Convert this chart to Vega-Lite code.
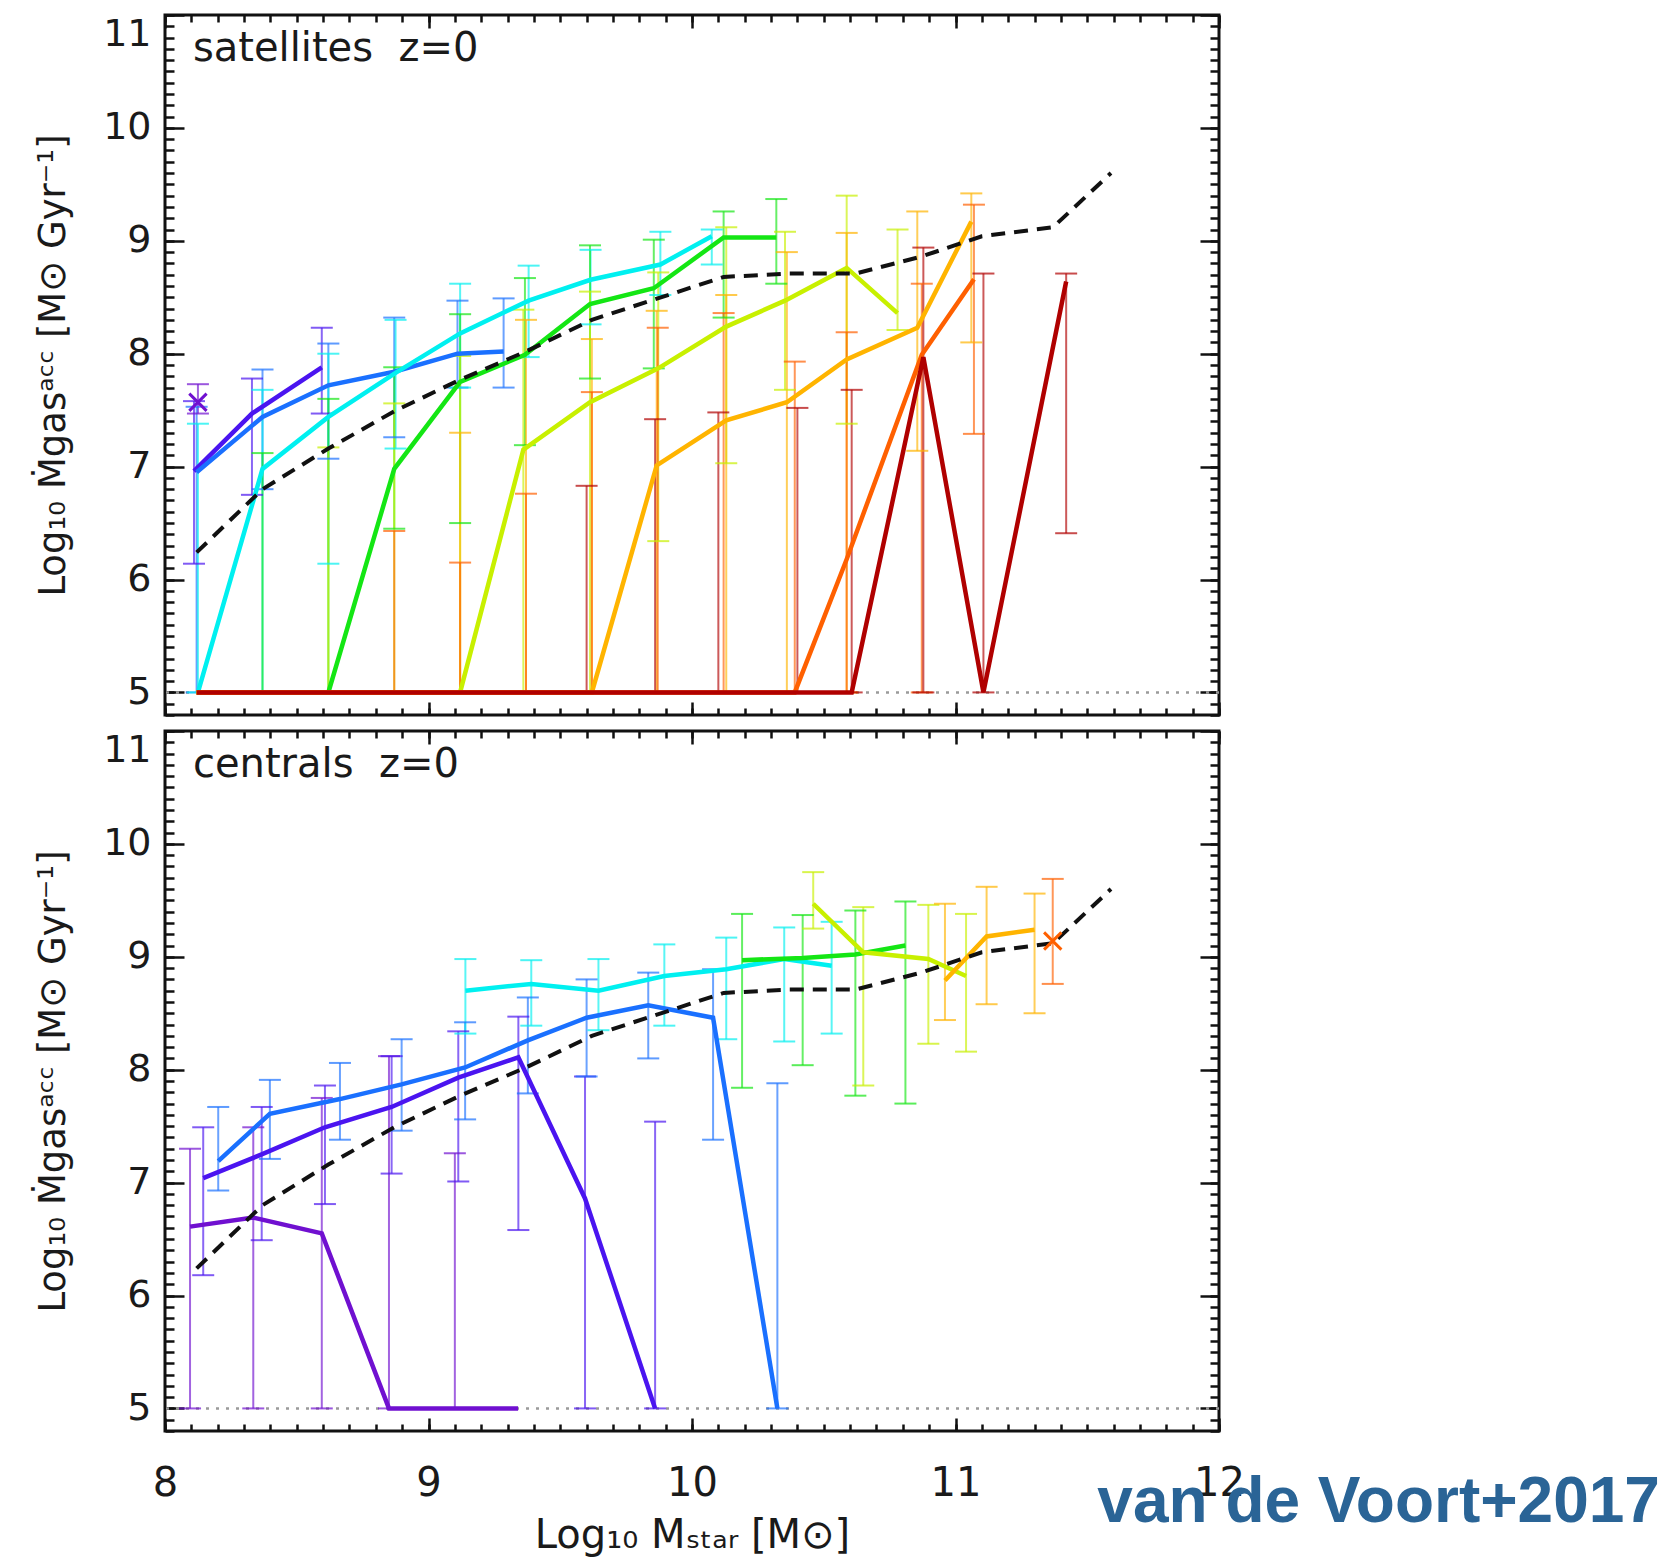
{
  "$schema": "https://vega.github.io/schema/vega-lite/v6.json",
  "background": "white",
  "padding": {"left": 33, "top": 12, "right": 5, "bottom": 5},
  "config": {
    "font": "DejaVu Sans",
    "view": {"stroke": "#111111", "strokeWidth": 3},
    "axis": {"domain": false, "grid": false, "labelFont": "DejaVu Sans", "titleFont": "DejaVu Sans"}
  },
  "title": {"text": "van de Voort+2017", "orient": "bottom", "anchor": "end", "frame": "bounds", "fontSize": 64, "fontWeight": "bold", "font": "Liberation Sans", "color": "#2a6496", "dx": 414, "dy": -86, "offset": 0},
  "spacing": 10,
  "datasets": {
    "one": [{"k": 1}],
    "dash": [
      {"x": 8.12, "y": 6.24}, {"x": 8.37, "y": 6.8}, {"x": 8.62, "y": 7.16}, {"x": 8.87, "y": 7.49},
      {"x": 9.12, "y": 7.77}, {"x": 9.37, "y": 8.02}, {"x": 9.62, "y": 8.3}, {"x": 9.87, "y": 8.49},
      {"x": 10.12, "y": 8.68}, {"x": 10.37, "y": 8.71}, {"x": 10.62, "y": 8.71}, {"x": 10.87, "y": 8.86},
      {"x": 11.1, "y": 9.04}, {"x": 11.37, "y": 9.12}, {"x": 11.59, "y": 9.6}
    ],
    "sat": [
      {"s": "s0", "x": 8.125, "y": 7.57, "lo": 7.47, "hi": 7.73, "m": "x"},
      {"s": "s1", "x": 8.11, "y": 6.96, "lo": 6.14, "hi": 7.58},
      {"s": "s1", "x": 8.33, "y": 7.47, "lo": 6.75, "hi": 7.78},
      {"s": "s1", "x": 8.595, "y": 7.88, "lo": 7.47, "hi": 8.23},
      {"s": "s2", "x": 8.12, "y": 6.95, "lo": 5.0, "hi": 7.53},
      {"s": "s2", "x": 8.37, "y": 7.44, "lo": 6.8, "hi": 7.86},
      {"s": "s2", "x": 8.62, "y": 7.72, "lo": 7.07, "hi": 8.09},
      {"s": "s2", "x": 8.87, "y": 7.84, "lo": 7.26, "hi": 8.32},
      {"s": "s2", "x": 9.11, "y": 8.0, "lo": 7.7, "hi": 8.47},
      {"s": "s2", "x": 9.285, "y": 8.02, "lo": 7.7, "hi": 8.49},
      {"s": "s3", "x": 8.125, "y": 5.0, "lo": 5.0, "hi": 7.38},
      {"s": "s3", "x": 8.37, "y": 6.98, "lo": 5.0, "hi": 7.68},
      {"s": "s3", "x": 8.62, "y": 7.44, "lo": 6.14, "hi": 8.0},
      {"s": "s3", "x": 8.875, "y": 7.83, "lo": 7.16, "hi": 8.3},
      {"s": "s3", "x": 9.12, "y": 8.18, "lo": 7.7, "hi": 8.62},
      {"s": "s3", "x": 9.38, "y": 8.47, "lo": 7.97, "hi": 8.78},
      {"s": "s3", "x": 9.615, "y": 8.655, "lo": 8.26, "hi": 8.92},
      {"s": "s3", "x": 9.88, "y": 8.79, "lo": 8.52, "hi": 9.08},
      {"s": "s3", "x": 10.075, "y": 9.04, "lo": 8.79, "hi": 9.1},
      {"s": "s4", "x": 8.12, "y": 5.0},
      {"s": "s4", "x": 8.37, "y": 5.0, "lo": 5.0, "hi": 7.12},
      {"s": "s4", "x": 8.62, "y": 5.0, "lo": 5.0, "hi": 7.6},
      {"s": "s4", "x": 8.87, "y": 6.98, "lo": 6.45, "hi": 7.88},
      {"s": "s4", "x": 9.12, "y": 7.75, "lo": 6.5, "hi": 8.35},
      {"s": "s4", "x": 9.366, "y": 7.99, "lo": 7.19, "hi": 8.67},
      {"s": "s4", "x": 9.613, "y": 8.44, "lo": 7.78, "hi": 8.96},
      {"s": "s4", "x": 9.855, "y": 8.58, "lo": 7.87, "hi": 9.01},
      {"s": "s4", "x": 10.12, "y": 9.03, "lo": 8.32, "hi": 9.26},
      {"s": "s4", "x": 10.32, "y": 9.03, "lo": 8.62, "hi": 9.37},
      {"s": "s5", "x": 8.12, "y": 5.0},
      {"s": "s5", "x": 8.37, "y": 5.0},
      {"s": "s5", "x": 8.62, "y": 5.0, "lo": 5.0, "hi": 7.17},
      {"s": "s5", "x": 8.87, "y": 5.0, "lo": 5.0, "hi": 7.56},
      {"s": "s5", "x": 9.12, "y": 5.0, "lo": 5.0, "hi": 7.98},
      {"s": "s5", "x": 9.36, "y": 7.15, "lo": 5.0, "hi": 8.39},
      {"s": "s5", "x": 9.613, "y": 7.57, "lo": 5.0, "hi": 8.55},
      {"s": "s5", "x": 9.872, "y": 7.87, "lo": 6.34, "hi": 8.72},
      {"s": "s5", "x": 10.13, "y": 8.24, "lo": 7.03, "hi": 9.12},
      {"s": "s5", "x": 10.353, "y": 8.47, "lo": 7.68, "hi": 9.08},
      {"s": "s5", "x": 10.587, "y": 8.76, "lo": 7.38, "hi": 9.4},
      {"s": "s5", "x": 10.78, "y": 8.36, "lo": 8.21, "hi": 9.1},
      {"s": "s6", "x": 8.12, "y": 5.0},
      {"s": "s6", "x": 8.37, "y": 5.0},
      {"s": "s6", "x": 8.62, "y": 5.0},
      {"s": "s6", "x": 8.87, "y": 5.0},
      {"s": "s6", "x": 9.12, "y": 5.0, "lo": 5.0, "hi": 7.3},
      {"s": "s6", "x": 9.37, "y": 5.0, "lo": 5.0, "hi": 8.3},
      {"s": "s6", "x": 9.62, "y": 5.0, "lo": 5.0, "hi": 8.13},
      {"s": "s6", "x": 9.866, "y": 7.01, "lo": 5.0, "hi": 8.38},
      {"s": "s6", "x": 10.13, "y": 7.41, "lo": 5.0, "hi": 8.52},
      {"s": "s6", "x": 10.36, "y": 7.57, "lo": 5.0, "hi": 8.9},
      {"s": "s6", "x": 10.587, "y": 7.95, "lo": 5.0, "hi": 9.07},
      {"s": "s6", "x": 10.855, "y": 8.23, "lo": 7.14, "hi": 9.26},
      {"s": "s6", "x": 11.06, "y": 9.17, "lo": 8.1, "hi": 9.42},
      {"s": "s7", "x": 8.12, "y": 5.0},
      {"s": "s7", "x": 8.37, "y": 5.0},
      {"s": "s7", "x": 8.62, "y": 5.0},
      {"s": "s7", "x": 8.87, "y": 5.0, "lo": 5.0, "hi": 6.43},
      {"s": "s7", "x": 9.12, "y": 5.0, "lo": 5.0, "hi": 6.15},
      {"s": "s7", "x": 9.37, "y": 5.0, "lo": 5.0, "hi": 6.76},
      {"s": "s7", "x": 9.62, "y": 5.0, "lo": 5.0, "hi": 7.66},
      {"s": "s7", "x": 9.87, "y": 5.0, "lo": 5.0, "hi": 8.23},
      {"s": "s7", "x": 10.12, "y": 5.0, "lo": 5.0, "hi": 8.36},
      {"s": "s7", "x": 10.39, "y": 5.0, "lo": 5.0, "hi": 7.93},
      {"s": "s7", "x": 10.587, "y": 6.18, "lo": 5.0, "hi": 8.19},
      {"s": "s7", "x": 10.872, "y": 7.99, "lo": 5.0, "hi": 8.62},
      {"s": "s7", "x": 11.07, "y": 8.66, "lo": 7.29, "hi": 9.32},
      {"s": "s8", "x": 8.12, "y": 5.0},
      {"s": "s8", "x": 8.37, "y": 5.0},
      {"s": "s8", "x": 8.62, "y": 5.0},
      {"s": "s8", "x": 8.87, "y": 5.0},
      {"s": "s8", "x": 9.12, "y": 5.0},
      {"s": "s8", "x": 9.37, "y": 5.0},
      {"s": "s8", "x": 9.6, "y": 5.0, "lo": 5.0, "hi": 6.83},
      {"s": "s8", "x": 9.86, "y": 5.0, "lo": 5.0, "hi": 7.42},
      {"s": "s8", "x": 10.1, "y": 5.0, "lo": 5.0, "hi": 7.48},
      {"s": "s8", "x": 10.4, "y": 5.0, "lo": 5.0, "hi": 7.52},
      {"s": "s8", "x": 10.606, "y": 5.0, "lo": 5.0, "hi": 7.68},
      {"s": "s8", "x": 10.878, "y": 7.97, "lo": 5.0, "hi": 8.94},
      {"s": "s8", "x": 11.106, "y": 5.0, "lo": 5.0, "hi": 8.71},
      {"s": "s8", "x": 11.42, "y": 8.64, "lo": 6.41, "hi": 8.71}
    ],
    "cen": [
      {"s": "s0", "x": 8.095, "y": 6.61, "lo": 5.0, "hi": 7.3},
      {"s": "s0", "x": 8.335, "y": 6.69, "lo": 5.0, "hi": 7.49},
      {"s": "s0", "x": 8.595, "y": 6.55, "lo": 5.0, "hi": 7.75},
      {"s": "s0", "x": 8.85, "y": 5.0, "lo": 5.0, "hi": 8.12},
      {"s": "s0", "x": 9.1, "y": 5.0, "lo": 5.0, "hi": 7.26},
      {"s": "s0", "x": 9.34, "y": 5.0},
      {"s": "s1", "x": 8.145, "y": 7.04, "lo": 6.18, "hi": 7.49},
      {"s": "s1", "x": 8.367, "y": 7.25, "lo": 6.49, "hi": 7.67},
      {"s": "s1", "x": 8.607, "y": 7.49, "lo": 6.81, "hi": 7.86},
      {"s": "s1", "x": 8.86, "y": 7.67, "lo": 7.08, "hi": 8.12},
      {"s": "s1", "x": 9.113, "y": 7.93, "lo": 7.01, "hi": 8.34},
      {"s": "s1", "x": 9.341, "y": 8.11, "lo": 6.58, "hi": 8.47},
      {"s": "s1", "x": 9.594, "y": 6.86, "lo": 5.0, "hi": 7.94},
      {"s": "s1", "x": 9.86, "y": 5.0, "lo": 5.0, "hi": 7.54},
      {"s": "s2", "x": 8.202, "y": 7.19, "lo": 6.93, "hi": 7.67},
      {"s": "s2", "x": 8.398, "y": 7.61, "lo": 7.21, "hi": 7.91},
      {"s": "s2", "x": 8.664, "y": 7.74, "lo": 7.38, "hi": 8.06},
      {"s": "s2", "x": 8.898, "y": 7.87, "lo": 7.46, "hi": 8.27},
      {"s": "s2", "x": 9.139, "y": 8.02, "lo": 7.56, "hi": 8.42},
      {"s": "s2", "x": 9.377, "y": 8.26, "lo": 7.79, "hi": 8.64},
      {"s": "s2", "x": 9.6, "y": 8.46, "lo": 7.94, "hi": 8.8},
      {"s": "s2", "x": 9.834, "y": 8.57, "lo": 8.1, "hi": 8.86},
      {"s": "s2", "x": 10.08, "y": 8.46, "lo": 7.38, "hi": 8.89},
      {"s": "s2", "x": 10.324, "y": 5.0, "lo": 5.0, "hi": 7.88},
      {"s": "s3", "x": 9.14, "y": 8.7, "lo": 8.32, "hi": 8.98},
      {"s": "s3", "x": 9.39, "y": 8.76, "lo": 8.39, "hi": 8.97},
      {"s": "s3", "x": 9.645, "y": 8.7, "lo": 8.35, "hi": 8.98},
      {"s": "s3", "x": 9.895, "y": 8.83, "lo": 8.39, "hi": 9.11},
      {"s": "s3", "x": 10.13, "y": 8.89, "lo": 8.27, "hi": 9.17},
      {"s": "s3", "x": 10.35, "y": 8.98, "lo": 8.25, "hi": 9.26},
      {"s": "s3", "x": 10.53, "y": 8.92, "lo": 8.32, "hi": 9.31},
      {"s": "s4", "x": 10.19, "y": 8.97, "lo": 7.84, "hi": 9.38},
      {"s": "s4", "x": 10.42, "y": 8.99, "lo": 8.04, "hi": 9.37},
      {"s": "s4", "x": 10.62, "y": 9.02, "lo": 7.77, "hi": 9.41},
      {"s": "s4", "x": 10.81, "y": 9.1, "lo": 7.7, "hi": 9.49},
      {"s": "s5", "x": 10.46, "y": 9.47, "lo": 9.25, "hi": 9.75},
      {"s": "s5", "x": 10.65, "y": 9.04, "lo": 7.86, "hi": 9.44},
      {"s": "s5", "x": 10.897, "y": 8.98, "lo": 8.23, "hi": 9.46},
      {"s": "s5", "x": 11.04, "y": 8.83, "lo": 8.16, "hi": 9.38},
      {"s": "s6", "x": 10.96, "y": 8.79, "lo": 8.44, "hi": 9.47},
      {"s": "s6", "x": 11.118, "y": 9.18, "lo": 8.58, "hi": 9.62},
      {"s": "s6", "x": 11.3, "y": 9.24, "lo": 8.5, "hi": 9.56},
      {"s": "s7", "x": 11.369, "y": 9.14, "lo": 8.76, "hi": 9.69, "m": "x"}
    ]
  },
  "vconcat": [
    {
      "width": 1054,
      "height": 700,
      "resolve": {"axis": {"x": "independent", "y": "independent"}},
      "layer": [
        {
          "data": {"name": "one"},
          "mark": {"type": "rule", "color": "#9a9a9a", "strokeWidth": 2.5, "strokeDash": [3, 7]},
          "encoding": {"y": {"datum": 5, "type": "quantitative", "scale": {"domain": [4.8, 11], "nice": false, "zero": false}, "axis": null}}
        },
        {
          "data": {"name": "sat"},
          "transform": [{"filter": "datum.lo != null"}],
          "mark": {"type": "rule", "strokeWidth": 2, "opacity": 0.65},
          "encoding": {
            "x": {"field": "x", "type": "quantitative", "scale": {"domain": [8, 12], "nice": false, "zero": false}, "axis": {"orient": "bottom", "values": [8, 9, 10, 11, 12], "labels": false, "ticks": true, "tickSize": -13, "tickWidth": 2.5, "tickColor": "#111111", "title": null}},
            "y": {"field": "lo", "type": "quantitative", "scale": {"domain": [4.8, 11], "nice": false, "zero": false}, "axis": {"orient": "left", "values": [5, 6, 7, 8, 9, 10, 11], "labels": false, "ticks": true, "tickSize": -19, "tickWidth": 2.5, "tickColor": "#111111", "title": null}},
            "y2": {"field": "hi"},
            "color": {"field": "s", "type": "nominal", "scale": {"domain": ["s0", "s1", "s2", "s3", "s4", "s5", "s6", "s7", "s8"], "range": ["#7010d0", "#4a14f0", "#1a70ff", "#00f0f0", "#14e614", "#c8f000", "#ffb400", "#ff6000", "#b00000"]}, "legend": null}
          }
        },
        {
          "data": {"name": "sat"},
          "transform": [{"filter": "datum.lo != null"}],
          "mark": {"type": "tick", "orient": "horizontal", "size": 22, "thickness": 2, "opacity": 0.7},
          "encoding": {
            "x": {"field": "x", "type": "quantitative", "scale": {"domain": [8, 12], "nice": false, "zero": false}, "axis": {"orient": "bottom", "tickCount": 40, "labels": false, "ticks": true, "tickSize": -7, "tickWidth": 2.5, "tickColor": "#111111", "title": null}},
            "y": {"field": "hi", "type": "quantitative", "scale": {"domain": [4.8, 11], "nice": false, "zero": false}, "axis": {"orient": "left", "tickCount": 62, "labels": false, "ticks": true, "tickSize": -9, "tickWidth": 2.5, "tickColor": "#111111", "title": null}},
            "color": {"field": "s", "type": "nominal", "legend": null}
          }
        },
        {
          "data": {"name": "sat"},
          "transform": [{"filter": "datum.lo != null"}],
          "mark": {"type": "tick", "orient": "horizontal", "size": 22, "thickness": 2, "opacity": 0.7},
          "encoding": {
            "x": {"field": "x", "type": "quantitative", "scale": {"domain": [8, 12], "nice": false, "zero": false}, "axis": {"orient": "top", "values": [8, 9, 10, 11, 12], "labels": false, "ticks": true, "tickSize": -13, "tickWidth": 2.5, "tickColor": "#111111", "title": null}},
            "y": {"field": "lo", "type": "quantitative", "scale": {"domain": [4.8, 11], "nice": false, "zero": false}, "axis": {"orient": "right", "values": [5, 6, 7, 8, 9, 10, 11], "labels": false, "ticks": true, "tickSize": -19, "tickWidth": 2.5, "tickColor": "#111111", "title": null}},
            "color": {"field": "s", "type": "nominal", "legend": null}
          }
        },
        {
          "data": {"name": "sat"},
          "mark": {"type": "line", "strokeWidth": 4.5},
          "encoding": {
            "x": {"field": "x", "type": "quantitative", "scale": {"domain": [8, 12], "nice": false, "zero": false}, "axis": {"orient": "top", "tickCount": 40, "labels": false, "ticks": true, "tickSize": -7, "tickWidth": 2.5, "tickColor": "#111111", "title": null}},
            "y": {"field": "y", "type": "quantitative", "scale": {"domain": [4.8, 11], "nice": false, "zero": false}, "axis": {"orient": "right", "tickCount": 62, "labels": false, "ticks": true, "tickSize": -9, "tickWidth": 2.5, "tickColor": "#111111", "title": null}},
            "color": {"field": "s", "type": "nominal", "legend": null}
          }
        },
        {
          "data": {"name": "dash"},
          "mark": {"type": "line", "color": "#111111", "strokeWidth": 4, "strokeDash": [14, 9]},
          "encoding": {
            "x": {"field": "x", "type": "quantitative", "scale": {"domain": [8, 12], "nice": false, "zero": false}, "axis": null},
            "y": {"field": "y", "type": "quantitative", "scale": {"domain": [4.8, 11], "nice": false, "zero": false}, "axis": {"orient": "left", "values": [5, 6, 7, 8, 9, 10, 11], "ticks": false, "labels": true, "labelFontSize": 38, "labelColor": "#1a1a1a", "labelPadding": 14, "labelFlush": true, "labelFlushOffset": 0, "labelOverlap": false, "labelBound": false, "title": "Log₁₀ Ṁgasᵃᶜᶜ [M⊙ Gyr⁻¹]", "titleFontSize": 37, "titleFontWeight": "normal", "titleColor": "#1a1a1a", "titlePadding": 30}}
          }
        },
        {
          "data": {"name": "sat"},
          "transform": [{"filter": "datum.m == 'x'"}],
          "mark": {"type": "point", "shape": "M-1,-1L1,1M-1,1L1,-1", "filled": false, "strokeWidth": 3, "size": 300, "opacity": 1},
          "encoding": {
            "x": {"field": "x", "type": "quantitative", "scale": {"domain": [8, 12], "nice": false, "zero": false}, "axis": null},
            "y": {"field": "y", "type": "quantitative", "scale": {"domain": [4.8, 11], "nice": false, "zero": false}, "axis": null},
            "color": {"field": "s", "type": "nominal", "legend": null}
          }
        },
        {
          "data": {"name": "one"},
          "mark": {"type": "text", "align": "left", "baseline": "alphabetic", "fontSize": 40, "font": "DejaVu Sans", "color": "#1a1a1a"},
          "encoding": {
            "x": {"datum": 8.106, "type": "quantitative", "scale": {"domain": [8, 12], "nice": false, "zero": false}, "axis": null},
            "y": {"datum": 10.59, "type": "quantitative", "scale": {"domain": [4.8, 11], "nice": false, "zero": false}, "axis": null},
            "text": {"value": "satellites \u00a0z=0"}
          }
        }
      ]
    },
    {
      "width": 1054,
      "height": 700,
      "resolve": {"axis": {"x": "independent", "y": "independent"}},
      "layer": [
        {
          "data": {"name": "one"},
          "mark": {"type": "rule", "color": "#9a9a9a", "strokeWidth": 2.5, "strokeDash": [3, 7]},
          "encoding": {"y": {"datum": 5, "type": "quantitative", "scale": {"domain": [4.8, 11], "nice": false, "zero": false}, "axis": null}}
        },
        {
          "data": {"name": "cen"},
          "transform": [{"filter": "datum.lo != null"}],
          "mark": {"type": "rule", "strokeWidth": 2, "opacity": 0.65},
          "encoding": {
            "x": {"field": "x", "type": "quantitative", "scale": {"domain": [8, 12], "nice": false, "zero": false}, "axis": {"orient": "bottom", "values": [8, 9, 10, 11, 12], "labels": false, "ticks": true, "tickSize": -13, "tickWidth": 2.5, "tickColor": "#111111", "title": null}},
            "y": {"field": "lo", "type": "quantitative", "scale": {"domain": [4.8, 11], "nice": false, "zero": false}, "axis": {"orient": "left", "values": [5, 6, 7, 8, 9, 10, 11], "labels": false, "ticks": true, "tickSize": -19, "tickWidth": 2.5, "tickColor": "#111111", "title": null}},
            "y2": {"field": "hi"},
            "color": {"field": "s", "type": "nominal", "scale": {"domain": ["s0", "s1", "s2", "s3", "s4", "s5", "s6", "s7", "s8"], "range": ["#7010d0", "#4a14f0", "#1a70ff", "#00f0f0", "#14e614", "#c8f000", "#ffb400", "#ff6000", "#b00000"]}, "legend": null}
          }
        },
        {
          "data": {"name": "cen"},
          "transform": [{"filter": "datum.lo != null"}],
          "mark": {"type": "tick", "orient": "horizontal", "size": 22, "thickness": 2, "opacity": 0.7},
          "encoding": {
            "x": {"field": "x", "type": "quantitative", "scale": {"domain": [8, 12], "nice": false, "zero": false}, "axis": {"orient": "bottom", "tickCount": 40, "labels": false, "ticks": true, "tickSize": -7, "tickWidth": 2.5, "tickColor": "#111111", "title": null}},
            "y": {"field": "hi", "type": "quantitative", "scale": {"domain": [4.8, 11], "nice": false, "zero": false}, "axis": {"orient": "left", "tickCount": 62, "labels": false, "ticks": true, "tickSize": -9, "tickWidth": 2.5, "tickColor": "#111111", "title": null}},
            "color": {"field": "s", "type": "nominal", "legend": null}
          }
        },
        {
          "data": {"name": "cen"},
          "transform": [{"filter": "datum.lo != null"}],
          "mark": {"type": "tick", "orient": "horizontal", "size": 22, "thickness": 2, "opacity": 0.7},
          "encoding": {
            "x": {"field": "x", "type": "quantitative", "scale": {"domain": [8, 12], "nice": false, "zero": false}, "axis": {"orient": "top", "values": [8, 9, 10, 11, 12], "labels": false, "ticks": true, "tickSize": -13, "tickWidth": 2.5, "tickColor": "#111111", "title": null}},
            "y": {"field": "lo", "type": "quantitative", "scale": {"domain": [4.8, 11], "nice": false, "zero": false}, "axis": {"orient": "right", "values": [5, 6, 7, 8, 9, 10, 11], "labels": false, "ticks": true, "tickSize": -19, "tickWidth": 2.5, "tickColor": "#111111", "title": null}},
            "color": {"field": "s", "type": "nominal", "legend": null}
          }
        },
        {
          "data": {"name": "cen"},
          "mark": {"type": "line", "strokeWidth": 4.5},
          "encoding": {
            "x": {"field": "x", "type": "quantitative", "scale": {"domain": [8, 12], "nice": false, "zero": false}, "axis": {"orient": "top", "tickCount": 40, "labels": false, "ticks": true, "tickSize": -7, "tickWidth": 2.5, "tickColor": "#111111", "title": null}},
            "y": {"field": "y", "type": "quantitative", "scale": {"domain": [4.8, 11], "nice": false, "zero": false}, "axis": {"orient": "right", "tickCount": 62, "labels": false, "ticks": true, "tickSize": -9, "tickWidth": 2.5, "tickColor": "#111111", "title": null}},
            "color": {"field": "s", "type": "nominal", "legend": null}
          }
        },
        {
          "data": {"name": "dash"},
          "mark": {"type": "line", "color": "#111111", "strokeWidth": 4, "strokeDash": [14, 9]},
          "encoding": {
            "x": {"field": "x", "type": "quantitative", "scale": {"domain": [8, 12], "nice": false, "zero": false}, "axis": {"orient": "bottom", "values": [8, 9, 10, 11, 12], "ticks": false, "labels": true, "labelFontSize": 40, "labelColor": "#1a1a1a", "labelPadding": 32, "labelFlush": false, "labelOverlap": false, "labelBound": false, "title": "Log₁₀ Mₛₜₐᵣ [M⊙]", "titleFontSize": 40, "titleFontWeight": "normal", "titleColor": "#1a1a1a", "titlePadding": 12}},
            "y": {"field": "y", "type": "quantitative", "scale": {"domain": [4.8, 11], "nice": false, "zero": false}, "axis": {"orient": "left", "values": [5, 6, 7, 8, 9, 10, 11], "ticks": false, "labels": true, "labelFontSize": 38, "labelColor": "#1a1a1a", "labelPadding": 14, "labelFlush": true, "labelFlushOffset": 0, "labelOverlap": false, "labelBound": false, "title": "Log₁₀ Ṁgasᵃᶜᶜ [M⊙ Gyr⁻¹]", "titleFontSize": 37, "titleFontWeight": "normal", "titleColor": "#1a1a1a", "titlePadding": 30}}
          }
        },
        {
          "data": {"name": "cen"},
          "transform": [{"filter": "datum.m == 'x'"}],
          "mark": {"type": "point", "shape": "M-1,-1L1,1M-1,1L1,-1", "filled": false, "strokeWidth": 3, "size": 300, "opacity": 1},
          "encoding": {
            "x": {"field": "x", "type": "quantitative", "scale": {"domain": [8, 12], "nice": false, "zero": false}, "axis": null},
            "y": {"field": "y", "type": "quantitative", "scale": {"domain": [4.8, 11], "nice": false, "zero": false}, "axis": null},
            "color": {"field": "s", "type": "nominal", "legend": null}
          }
        },
        {
          "data": {"name": "one"},
          "mark": {"type": "text", "align": "left", "baseline": "alphabetic", "fontSize": 40, "font": "DejaVu Sans", "color": "#1a1a1a"},
          "encoding": {
            "x": {"datum": 8.106, "type": "quantitative", "scale": {"domain": [8, 12], "nice": false, "zero": false}, "axis": null},
            "y": {"datum": 10.59, "type": "quantitative", "scale": {"domain": [4.8, 11], "nice": false, "zero": false}, "axis": null},
            "text": {"value": "centrals \u00a0z=0"}
          }
        }
      ]
    }
  ]
}
